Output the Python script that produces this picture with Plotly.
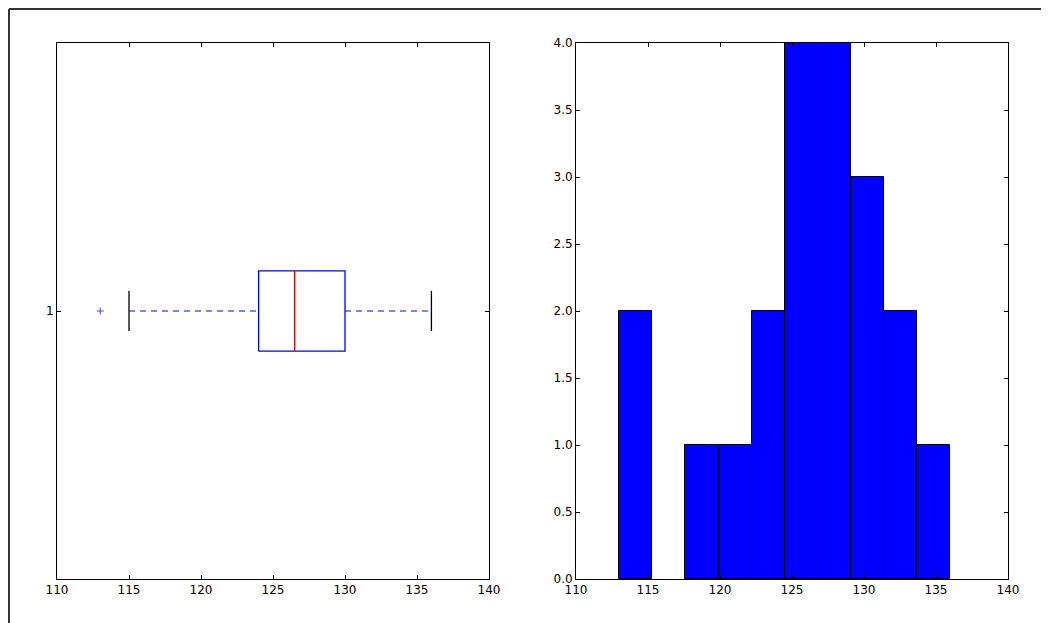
import numpy as np
import plotly.graph_objects as go

values = [113, 115, 118, 120, 124, 124, 125, 125, 126, 126,
          127, 127, 128, 129, 130, 130, 131, 132, 133, 136]
n_bins = 10
x_ticks = [110, 115, 120, 125, 130, 135, 140]
hist_y_ticks = [0.0, 0.5, 1.0, 1.5, 2.0, 2.5, 3.0, 3.5, 4.0]

data = np.array(values, dtype=float)

# Box plot statistics (matplotlib style, whis=1.5)
q1, med, q3 = np.percentile(data, [25, 50, 75])
iqr = q3 - q1
lo_whisk = data[data >= q1 - 1.5 * iqr].min()
hi_whisk = data[data <= q3 + 1.5 * iqr].max()
outliers = data[(data < lo_whisk) | (data > hi_whisk)]
pos = 1.0
bw = 0.15          # box width
cw = bw / 2        # cap width

# Histogram
counts, edges = np.histogram(data, bins=n_bins)
centers = (edges[:-1] + edges[1:]) / 2
widths = np.diff(edges)
bar_heights = [c if c > 0 else None for c in counts]

fig = go.Figure()

# box rectangle
fig.add_trace(go.Scatter(
    x=[q1, q3, q3, q1, q1],
    y=[pos - bw / 2, pos - bw / 2, pos + bw / 2, pos + bw / 2, pos - bw / 2],
    mode="lines", line=dict(color="blue", width=1.3),
    xaxis="x", yaxis="y", showlegend=False, hoverinfo="skip"))
# median
fig.add_trace(go.Scatter(
    x=[med, med], y=[pos - bw / 2, pos + bw / 2],
    mode="lines", line=dict(color="red", width=1.3),
    xaxis="x", yaxis="y", showlegend=False))
# whiskers
fig.add_trace(go.Scatter(
    x=[lo_whisk, q1, None, q3, hi_whisk], y=[pos, pos, None, pos, pos],
    mode="lines", line=dict(color="blue", width=1.2, dash="6px,5px"),
    xaxis="x", yaxis="y", showlegend=False))
# caps
fig.add_trace(go.Scatter(
    x=[lo_whisk, lo_whisk, None, hi_whisk, hi_whisk],
    y=[pos - cw / 2, pos + cw / 2, None, pos - cw / 2, pos + cw / 2],
    mode="lines", line=dict(color="black", width=1.3),
    xaxis="x", yaxis="y", showlegend=False))
# outliers
fig.add_trace(go.Scatter(
    x=outliers, y=[pos] * len(outliers), mode="markers",
    marker=dict(symbol="cross-thin-open", size=5, color="#4040ff",
                line=dict(color="#4040ff", width=1)),
    xaxis="x", yaxis="y", showlegend=False))

# histogram bars
fig.add_trace(go.Bar(
    x=centers, y=bar_heights, width=widths,
    marker=dict(color="blue", line=dict(color="black", width=1)),
    xaxis="x2", yaxis="y2", showlegend=False))

axis_common = dict(
    showline=True, linecolor="black", linewidth=1, mirror="ticks",
    ticks="inside", ticklen=4, tickcolor="black", tickwidth=1,
    showgrid=False, zeroline=False,
    tickfont=dict(family="DejaVu Sans", size=12, color="black"),
)

# the page adds an 8px body margin, so the figure is offset by 8px
W, H = 1041, 615
L, R, T, B = 49, 41, 35, 44
PW, PH = W - L - R, H - T - B

fig.update_layout(
    width=W, height=H,
    margin=dict(l=L, r=R, t=T, b=B),
    paper_bgcolor="white", plot_bgcolor="white",
    bargap=0,
    xaxis=dict(domain=[0, 432 / PW], range=[110, 140], tickvals=x_ticks,
               anchor="y", **axis_common),
    yaxis=dict(range=[0.5, 1.5], tickvals=[1], ticktext=["1"],
               anchor="x", **axis_common),
    xaxis2=dict(domain=[519 / PW, 1], range=[110, 140], tickvals=x_ticks,
                anchor="y2", **axis_common),
    yaxis2=dict(range=[0, 4], tickvals=hist_y_ticks,
                ticktext=[f"{v:.1f}" for v in hist_y_ticks],
                anchor="x2", **axis_common),
    shapes=[
        dict(type="line", xref="paper", yref="paper",
             x0=(1 - L) / PW, x1=(W - L) / PW,
             y0=1 + (T - 1) / PH, y1=1 + (T - 1) / PH,
             line=dict(color="#333333", width=2)),
        dict(type="line", xref="paper", yref="paper",
             x0=(1 - L) / PW, x1=(1 - L) / PW,
             y0=1 + (T - 1) / PH, y1=-B / PH,
             line=dict(color="#333333", width=2)),
    ],
)

fig.write_html("out.html")
